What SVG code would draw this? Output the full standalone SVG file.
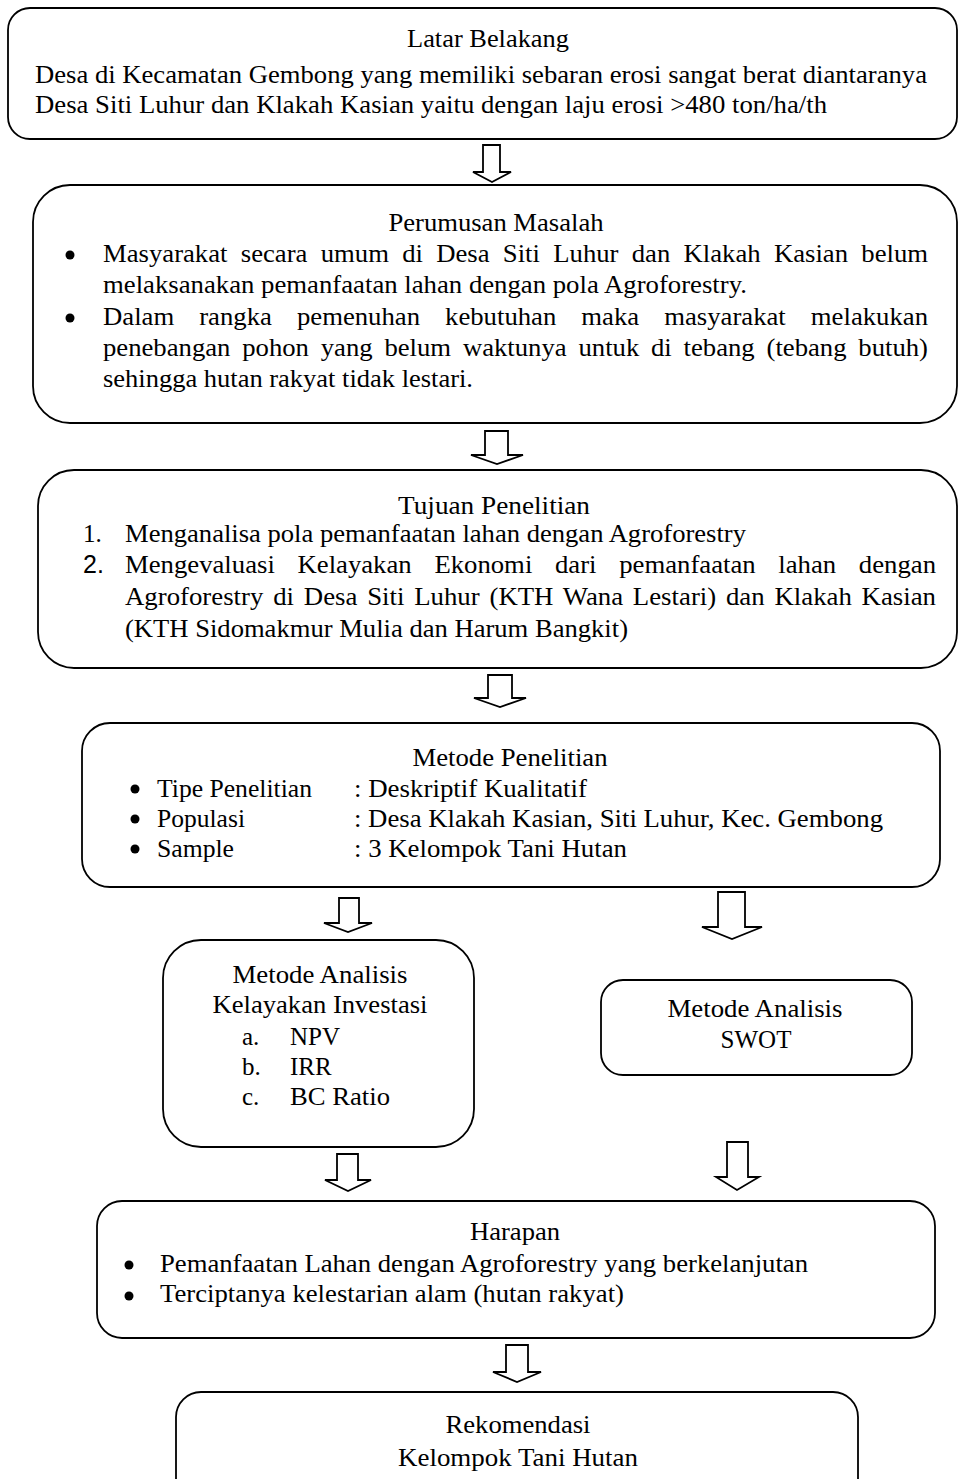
<svg xmlns="http://www.w3.org/2000/svg" width="959" height="1479" viewBox="0 0 959 1479">
<style>
.box{fill:#fff;stroke:#000;stroke-width:1.8}
.arr{fill:#fff;stroke:#000;stroke-width:1.8;stroke-linejoin:miter}
.t{font-family:"Liberation Serif","Times New Roman",serif;font-size:25px;fill:#000}
.s{font-family:"Liberation Sans",Arial,sans-serif;font-size:25px;fill:#000}
.c{text-anchor:middle}
.b{fill:#000}
</style>
<rect width="959" height="1479" fill="#fff"/>
<g id="connectors">
<polygon class="arr" points="483,145 500,145 500,172 511,172 492,182 473,172 483,172"/>
<polygon class="arr" points="485,431 508,431 508,455 523,455 497,464 471,455 485,455"/>
<polygon class="arr" points="488,675 512,675 512,698 526,698 500,707 474,698 488,698"/>
<polygon class="arr" points="339,898 359,898 359,923 372,923 348,932 324,923 339,923"/>
<polygon class="arr" points="718,892 745,892 745,927 762,927 732,939 702,927 718,927"/>
<polygon class="arr" points="337,1154 358,1154 358,1180 371,1180 348,1191 325,1180 337,1180"/>
<polygon class="arr" points="727,1142 748,1142 748,1177 759,1177 737,1190 716,1177 727,1177"/>
<polygon class="arr" points="506,1345 528,1345 528,1372 541,1372 517,1382 493,1372 506,1372"/>
</g>
<g id="latar-belakang">
<rect class="box" x="8" y="8" width="949" height="131" rx="22"/>
<text class="t c" x="488" y="47" textLength="162" lengthAdjust="spacingAndGlyphs">Latar Belakang</text>
<text class="t" x="35" y="83" textLength="892" lengthAdjust="spacingAndGlyphs">Desa di Kecamatan Gembong yang memiliki sebaran erosi sangat berat diantaranya</text>
<text class="t" x="35" y="113" textLength="792" lengthAdjust="spacingAndGlyphs">Desa Siti Luhur dan Klakah Kasian yaitu dengan laju erosi &gt;480 ton/ha/th</text>
</g>
<g id="perumusan-masalah">
<rect class="box" x="33" y="185" width="924" height="238" rx="37"/>
<text class="t c" x="496" y="231" textLength="215" lengthAdjust="spacingAndGlyphs">Perumusan Masalah</text>
<circle class="b" cx="70" cy="255" r="4.5"/>
<text class="t" x="103" y="262" word-spacing="6.2" textLength="825" lengthAdjust="spacingAndGlyphs">Masyarakat secara umum di Desa Siti Luhur dan Klakah Kasian belum</text>
<text class="t" x="103" y="293" textLength="644" lengthAdjust="spacingAndGlyphs">melaksanakan pemanfaatan lahan dengan pola Agroforestry.</text>
<circle class="b" cx="70" cy="318" r="4.5"/>
<text class="t" x="103" y="325" word-spacing="17.2" textLength="825" lengthAdjust="spacingAndGlyphs">Dalam rangka pemenuhan kebutuhan maka masyarakat melakukan</text>
<text class="t" x="103" y="356" word-spacing="4.8" textLength="825" lengthAdjust="spacingAndGlyphs">penebangan pohon yang belum waktunya untuk di tebang (tebang butuh)</text>
<text class="t" x="103" y="387" textLength="370" lengthAdjust="spacingAndGlyphs">sehingga hutan rakyat tidak lestari.</text>
</g>
<g id="tujuan-penelitian">
<rect class="box" x="38" y="470" width="919" height="198" rx="36"/>
<text class="t c" x="494" y="514" textLength="192" lengthAdjust="spacingAndGlyphs">Tujuan Penelitian</text>
<text class="t" x="83" y="542">1.</text>
<text class="t" x="125" y="542" textLength="621" lengthAdjust="spacingAndGlyphs">Menganalisa pola pemanfaatan lahan dengan Agroforestry</text>
<text class="s" x="83" y="573">2.</text>
<text class="t" x="125" y="573" word-spacing="15" textLength="811" lengthAdjust="spacingAndGlyphs">Mengevaluasi Kelayakan Ekonomi dari pemanfaatan lahan dengan</text>
<text class="t" x="125" y="605" word-spacing="2.9" textLength="811" lengthAdjust="spacingAndGlyphs">Agroforestry di Desa Siti Luhur (KTH Wana Lestari) dan Klakah Kasian</text>
<text class="t" x="125" y="637" textLength="503" lengthAdjust="spacingAndGlyphs">(KTH Sidomakmur Mulia dan Harum Bangkit)</text>
</g>
<g id="metode-penelitian">
<rect class="box" x="82" y="723" width="858" height="164" rx="28"/>
<text class="t c" x="510" y="766" textLength="195" lengthAdjust="spacingAndGlyphs">Metode Penelitian</text>
<circle class="b" cx="135" cy="789" r="4.5"/>
<text class="t" x="157" y="797" textLength="155" lengthAdjust="spacingAndGlyphs">Tipe Penelitian</text>
<text class="t" x="354" y="797" textLength="233" lengthAdjust="spacingAndGlyphs">: Deskriptif Kualitatif</text>
<circle class="b" cx="135" cy="819" r="4.5"/>
<text class="t" x="157" y="827" textLength="88" lengthAdjust="spacingAndGlyphs">Populasi</text>
<text class="t" x="354" y="827" textLength="529" lengthAdjust="spacingAndGlyphs">: Desa Klakah Kasian, Siti Luhur, Kec. Gembong</text>
<circle class="b" cx="135" cy="849" r="4.5"/>
<text class="t" x="157" y="857" textLength="77" lengthAdjust="spacingAndGlyphs">Sample</text>
<text class="t" x="354" y="857" textLength="273" lengthAdjust="spacingAndGlyphs">: 3 Kelompok Tani Hutan</text>
</g>
<g id="analisis-kelayakan">
<rect class="box" x="163" y="940" width="311" height="207" rx="38"/>
<text class="t c" x="320" y="983" textLength="175" lengthAdjust="spacingAndGlyphs">Metode Analisis</text>
<text class="t c" x="320" y="1013" textLength="215" lengthAdjust="spacingAndGlyphs">Kelayakan Investasi</text>
<text class="t" x="242" y="1045">a.</text>
<text class="t" x="290" y="1045">NPV</text>
<text class="t" x="242" y="1075">b.</text>
<text class="t" x="290" y="1075">IRR</text>
<text class="t" x="242" y="1105">c.</text>
<text class="t" x="290" y="1105" textLength="100" lengthAdjust="spacingAndGlyphs">BC Ratio</text>
</g>
<g id="analisis-swot">
<rect class="box" x="601" y="980" width="311" height="95" rx="22"/>
<text class="t c" x="755" y="1017" textLength="175" lengthAdjust="spacingAndGlyphs">Metode Analisis</text>
<text class="t c" x="756" y="1048">SWOT</text>
</g>
<g id="harapan">
<rect class="box" x="97" y="1201" width="838" height="137" rx="25"/>
<text class="t c" x="515" y="1240" textLength="90" lengthAdjust="spacingAndGlyphs">Harapan</text>
<circle class="b" cx="129" cy="1265" r="4.5"/>
<text class="t" x="160" y="1272" textLength="648" lengthAdjust="spacingAndGlyphs">Pemanfaatan Lahan dengan Agroforestry yang berkelanjutan</text>
<circle class="b" cx="129" cy="1296" r="4.5"/>
<text class="t" x="160" y="1302" textLength="464" lengthAdjust="spacingAndGlyphs">Terciptanya kelestarian alam (hutan rakyat)</text>
</g>
<g id="rekomendasi">
<rect class="box" x="176" y="1392" width="682" height="120" rx="25"/>
<text class="t c" x="518" y="1433" textLength="145" lengthAdjust="spacingAndGlyphs">Rekomendasi</text>
<text class="t c" x="518" y="1466" textLength="240" lengthAdjust="spacingAndGlyphs">Kelompok Tani Hutan</text>
</g>
</svg>
